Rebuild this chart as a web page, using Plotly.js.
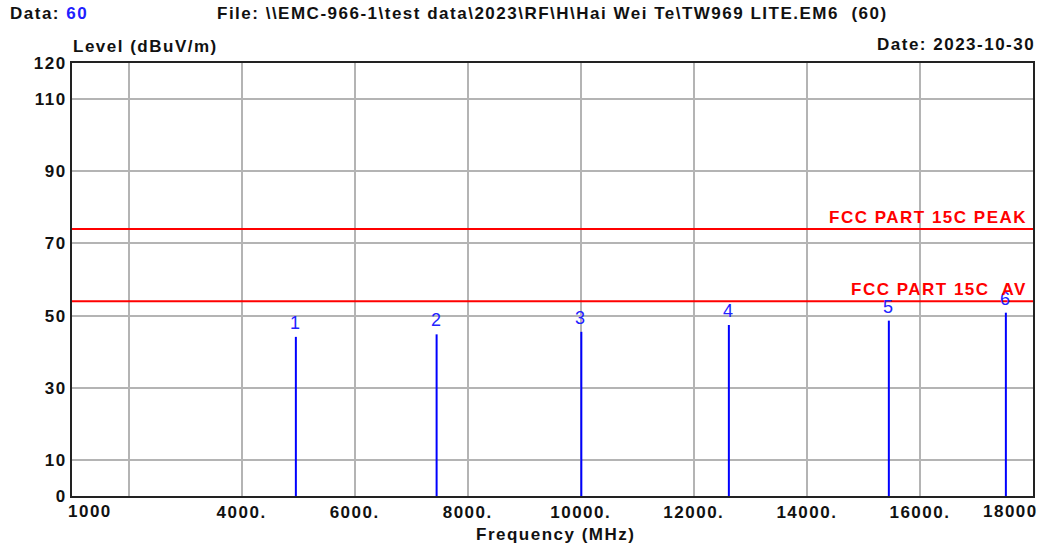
<!DOCTYPE html>
<html>
<head>
<meta charset="utf-8">
<script src="https://cdn.plot.ly/plotly-3.0.1.min.js"></script>
<style>
html,body{margin:0;padding:0;background:#fff;}
#chart{width:1055px;height:548px;}
text{letter-spacing:1.5px;}
</style>
</head>
<body>
<div id="chart"></div>
<script>
// Data
const markerLabels = ['1', '2', '3', '4', '5', '6'];
const markerFreqs = [4960, 7450, 10010, 12620, 15450, 17520];
const markerLevels = [44.1, 44.8, 45.5, 47.4, 48.6, 50.8];
const limitNames = ['FCC PART 15C PEAK', 'FCC PART 15C  AV'];
const limitLevels = [74, 54];
const xRange = [1000, 18000];
const xGridVals = [2000, 4000, 6000, 8000, 10000, 12000, 14000, 16000];
const xGridText = ['', '4000.', '6000.', '8000.', '10000.', '12000.', '14000.', '16000.'];
const yTickVals = [0, 10, 30, 50, 70, 90, 110, 120];
const yTickText = ['0', '10', '30', '50', '70', '90', '110', '120'];

const FONT = 'Liberation Sans, Arial, sans-serif';
const FS = 17;
const traces = [];

// Limit lines
limitLevels.forEach((lv, i) => {
  traces.push({x: xRange, y: [lv, lv], mode: 'lines', line: {color: '#ff0000', width: 2}, hoverinfo: 'skip', showlegend: false});
});

// Marker lines
const mx = [], my = [];
markerFreqs.forEach((f, i) => { mx.push(f, f, null); my.push(0, markerLevels[i], null); });
traces.push({x: mx, y: my, mode: 'lines', line: {color: '#0000ff', width: 2}, hoverinfo: 'skip', showlegend: false});

const annotations = [];
markerFreqs.forEach((f, i) => {
  annotations.push({x: f, y: markerLevels[i], xref: 'x', yref: 'y', text: markerLabels[i], showarrow: false,
    yanchor: 'middle', xanchor: 'center', yshift: 14, font: {family: FONT, size: 18, color: '#2222ff'}});
});
limitLevels.forEach((lv, i) => {
  annotations.push({x: 1, xref: 'paper', y: lv, yref: 'y', text: limitNames[i], showarrow: false,
    xanchor: 'right', yanchor: 'bottom', xshift: -4, yshift: 0, font: {family: FONT, size: FS, color: '#ff0000', weight: 'bold'}});
});
// edge x tick labels
annotations.push({x: 1000, xref: 'x', y: 0, yref: 'paper', text: '<b>1000</b>', showarrow: false, xanchor: 'left', yanchor: 'top', yshift: -4, xshift: -6, font: {family: FONT, size: FS, color: '#111'}});
annotations.push({x: 18000, xref: 'x', y: 0, yref: 'paper', text: '<b>18000</b>', showarrow: false, xanchor: 'center', yanchor: 'top', yshift: -4, xshift: -23, font: {family: FONT, size: FS, color: '#111'}});

const paperAnn = (x, y, text, xa, opts) => Object.assign({xref: 'paper', yref: 'paper', x: x, y: y, text: text, showarrow: false, xanchor: xa, yanchor: 'middle', font: {family: FONT, size: FS, color: '#111', weight: 'bold'}}, opts || {});
// plot area: x 72..1033 (961px), y 63..496 (433px)
const px = v => (v - 72) / 961;
const py = v => (496 - v) / 433;
annotations.push(paperAnn(px(8), py(14), 'Data: <span style="color:#2020ff">60</span>', 'left'));
annotations.push(paperAnn(px(215), py(14), 'File: \\\\EMC-966-1\\test data\\2023\\RF\\H\\Hai Wei Te\\TW969 LITE.EM6  (60)', 'left'));
annotations.push(paperAnn(px(71), py(46), 'Level (dBuV/m)', 'left'));
annotations.push(paperAnn(px(1037), py(45), 'Date: 2023-10-30', 'right'));
annotations.push(paperAnn(px(555), py(534), 'Frequency (MHz)', 'center'));

const layout = {
  width: 1055, height: 548,
  margin: {l: 72, r: 22, t: 63, b: 52},
  paper_bgcolor: '#fff', plot_bgcolor: '#fff',
  showlegend: false,
  font: {family: FONT, color: '#111'},
  xaxis: {range: xRange, tickmode: 'array', tickvals: xGridVals, ticktext: xGridText, showgrid: true, gridcolor: '#b4b4b4', gridwidth: 2,
    zeroline: false, showline: true, linecolor: '#222', linewidth: 2, mirror: true, ticks: '', ticklen: 0,
    tickfont: {family: FONT, size: FS, color: '#111', weight: 'bold'}},
  yaxis: {range: [0, 120], tickmode: 'array', tickvals: yTickVals, ticktext: yTickText, showgrid: true, gridcolor: '#b4b4b4', gridwidth: 2,
    zeroline: false, showline: true, linecolor: '#222', linewidth: 2, mirror: true, ticks: '', ticklen: 0,
    tickfont: {family: FONT, size: FS, color: '#111', weight: 'bold'}},
  annotations: annotations
};

Plotly.newPlot('chart', traces, layout, {displayModeBar: false, staticPlot: true});
</script>
</body>
</html>
